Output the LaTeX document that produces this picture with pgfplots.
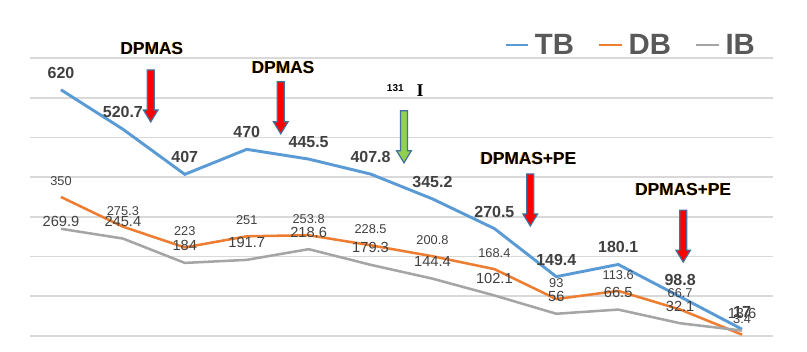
\documentclass[border=0pt]{standalone}
\usepackage{fontspec}
\setmainfont{Liberation Sans}
\newfontfamily\serifbold{Liberation Serif}
\usepackage{pgfplots}
\pgfplotsset{compat=1.18}
\definecolor{tbc}{HTML}{5B9BD5}
\definecolor{dbc}{HTML}{ED7D31}
\definecolor{ibc}{HTML}{A5A5A5}
\definecolor{gridc}{HTML}{D9D9D9}
\definecolor{labc}{HTML}{404040}
\definecolor{legc}{HTML}{595959}
\definecolor{arrowblue}{HTML}{41719C}
\definecolor{arrowgreen}{HTML}{92D050}
\definecolor{glow}{HTML}{F4A020}
\newcommand{\downarr}[3]{%
  \draw[fill=#3, draw=arrowblue, line width=0.9pt, line join=miter]
    ([xshift=-2.6pt]axis cs:#1,#2) -- ([xshift=-2.6pt,yshift=-30pt]axis cs:#1,#2)
    -- ([xshift=-5.5pt,yshift=-30pt]axis cs:#1,#2) -- ([yshift=-39pt]axis cs:#1,#2)
    -- ([xshift=5.5pt,yshift=-30pt]axis cs:#1,#2) -- ([xshift=2.6pt,yshift=-30pt]axis cs:#1,#2)
    -- ([xshift=2.6pt]axis cs:#1,#2) -- cycle;}
\newcommand{\anno}[3]{%
  \node[text=glow, font=\bfseries\fontsize{13}{13}\selectfont] at ([xshift=-0.6pt]axis cs:#1,#2) {#3};
  \node[text=black, font=\bfseries\fontsize{13}{13}\selectfont] at (axis cs:#1,#2) {#3};}
\begin{document}
\begin{tikzpicture}
\begin{axis}[
  width=557.25pt, height=208.5pt, scale only axis,
  xmin=0.5, xmax=12.5, ymin=0, ymax=700,
  ytick={0,100,...,700}, yticklabels={}, xtick=\empty,
  major tick length=0pt,
  ymajorgrids, grid style={color=gridc, line width=1.2pt},
  axis line style={draw=none},
  clip=false,
  /pgf/number format/assume math mode=true,
  legend style={at={(0.985,1.047)}, anchor=east, draw=none, fill=none,
    legend columns=3, font=\bfseries\fontsize{22}{22}\selectfont, text=legc,
    /tikz/every even column/.append style={column sep=16pt},
    /tikz/every odd column/.append style={column sep=2pt}},
  legend image code/.code={\draw[#1, line width=1.9pt] (0cm,0cm) -- (0.6cm,0cm);},
]
\addplot[tbc, line width=2.2pt, mark=none, nodes near coords,
  every node near coord/.append style={anchor=center, yshift=12.75pt, text=labc,
    font=\bfseries\fontsize{12}{12}\selectfont}]
  coordinates {(1,620) (2,520.7) (3,407) (4,470) (5,445.5) (6,407.8) (7,345.2)
               (8,270.5) (9,149.4) (10,180.1) (11,98.8) (12,17)};
\addlegendentry{TB}
\addplot[dbc, line width=1.9pt, mark=none, nodes near coords,
  every node near coord/.append style={anchor=center, yshift=12pt, text=labc,
    font=\fontsize{9.6}{9.6}\selectfont}]
  coordinates {(1,350) (2,275.3) (3,223) (4,251) (5,253.8) (6,228.5) (7,200.8)
               (8,168.4) (9,93) (10,113.6) (11,66.7) (12,3.4)};
\addlegendentry{DB}
\addplot[ibc, line width=1.9pt, mark=none, nodes near coords,
  every node near coord/.append style={anchor=center, yshift=12.75pt, text=labc,
    font=\fontsize{11}{11}\selectfont},
  coordinate style/.condition={\coordindex==0}{yshift=-7pt}]
  coordinates {(1,269.9) (2,245.4) (3,184) (4,191.7) (5,218.6) (6,179.3) (7,144.4)
               (8,102.1) (9,56) (10,66.5) (11,32.1) (12,13.6)};
\addlegendentry{IB}
% annotations
\anno{2.47}{725}{DPMAS}
\downarr{2.45}{670}{red}
\anno{4.59}{675}{DPMAS}
\downarr{4.55}{640}{red}
\node[text=black, font=\bfseries\fontsize{7.5}{7.5}\selectfont] at (axis cs:6.40,625) {131};
\node[text=black, font=\serifbold\bfseries\fontsize{13.5}{13.5}\selectfont] at (axis cs:6.80,618) {I};
\downarr{6.54}{567}{arrowgreen}
\anno{8.55}{448}{DPMAS+PE}
\downarr{8.58}{408}{red}
\anno{11.05}{368}{DPMAS+PE}
\downarr{11.05}{317}{red}
\end{axis}
\pgfresetboundingbox
\path ([shift={(-22.5pt,-12pt)}]current axis.south west) rectangle ([shift={(25.5pt,43.5pt)}]current axis.north east);
\end{tikzpicture}
\end{document}
